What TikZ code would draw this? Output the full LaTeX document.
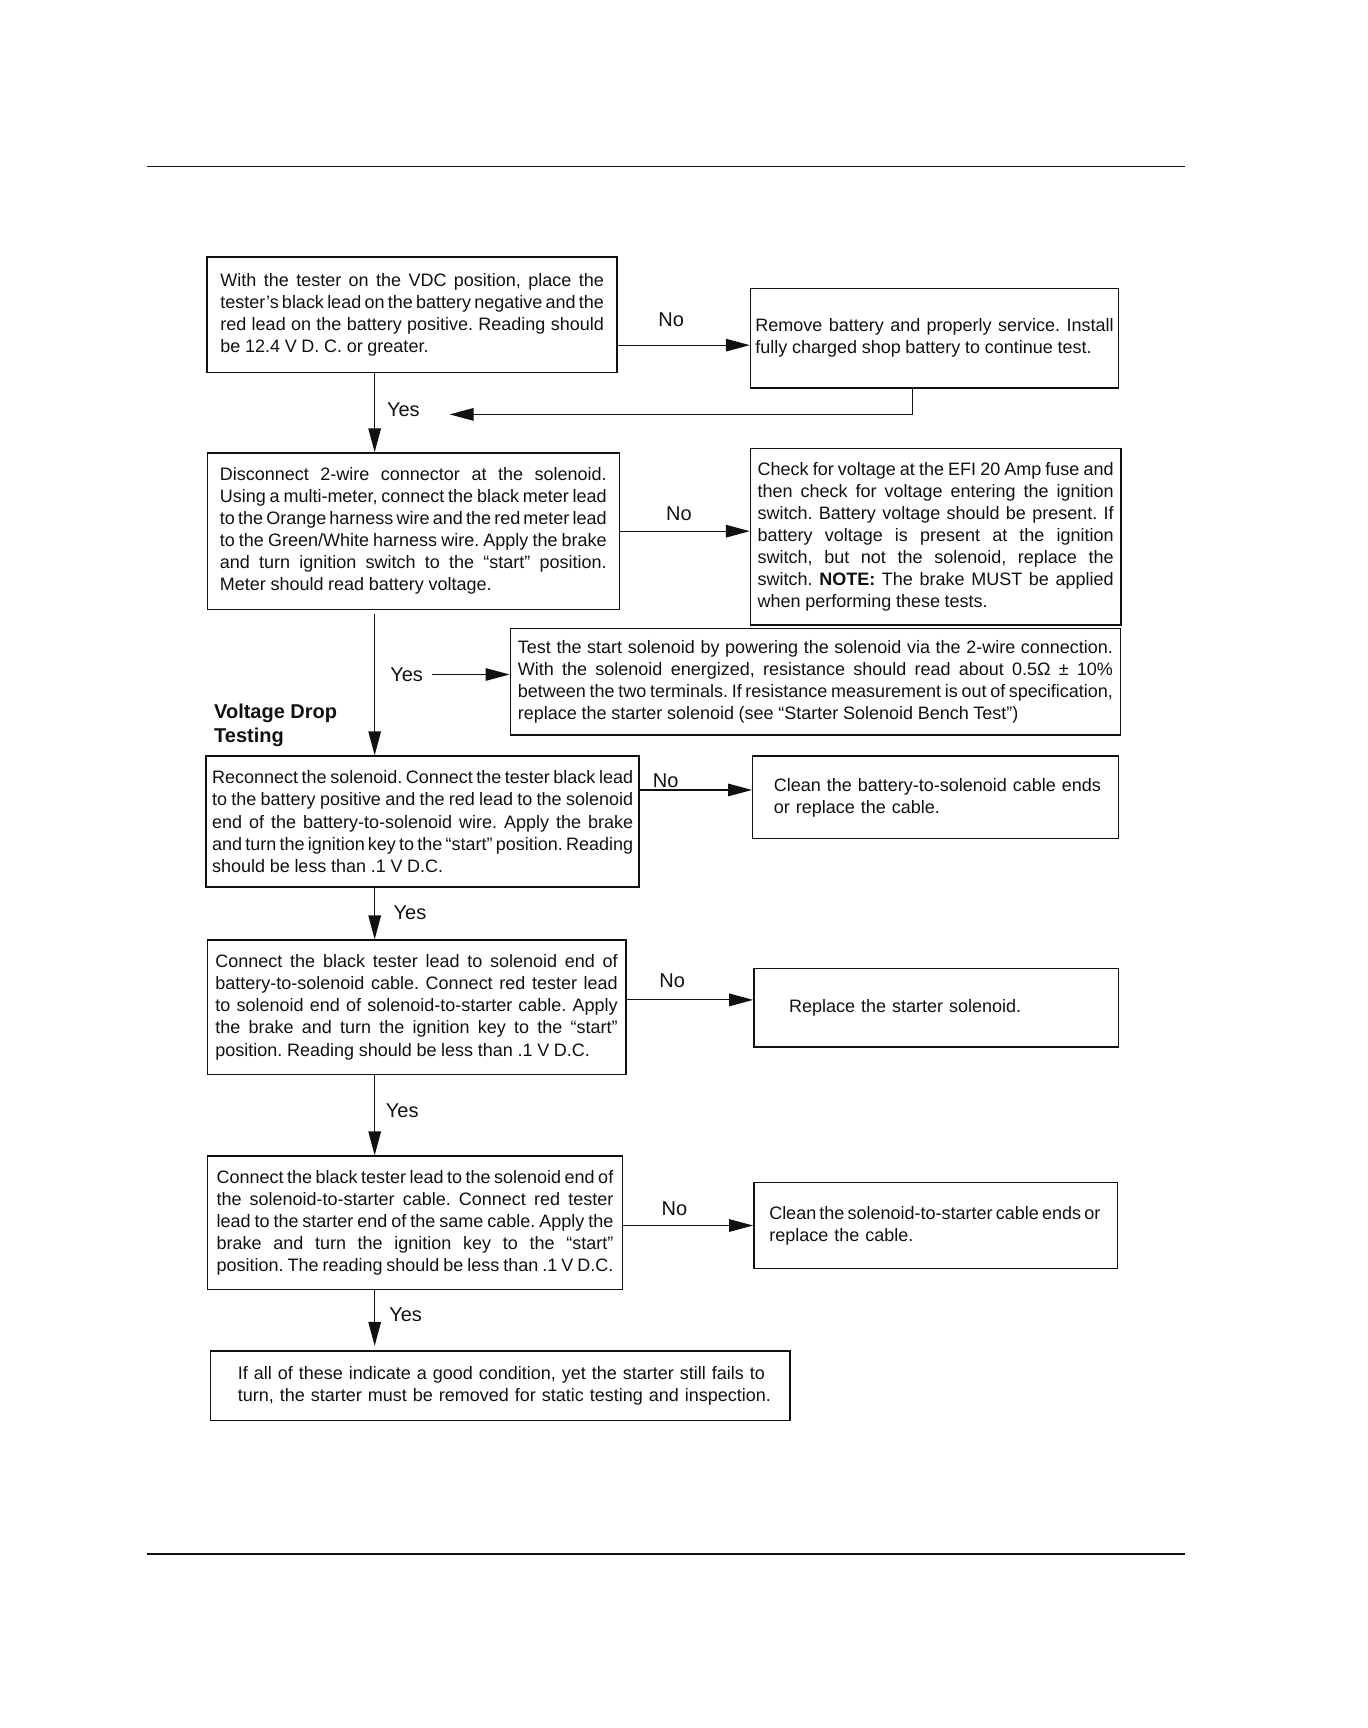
\documentclass[tikz,border=0pt]{standalone}
\usepackage{fontspec}
\setmainfont{Liberation Sans}
\usetikzlibrary{arrows.meta,positioning}
\definecolor{ink}{HTML}{111111}
\tikzset{
  box/.style={draw=ink,line width=.7pt,rectangle,inner sep=0pt,align=justify,text=ink,
    font={\fontsize{9}{11.02}\selectfont\frenchspacing\spaceskip=.26em plus .4em minus .12em}},
  boxl/.style={box,align=left},
  lbl/.style={font={\fontsize{10}{12}\selectfont},text=ink,inner sep=1pt},
  hdr/.style={font={\bfseries\fontsize{10}{12.1}\selectfont},text=ink,align=left,inner sep=0pt},
  ar/.style={-{Triangle[length=4.2mm,width=2.2mm]},draw=ink,line width=.6pt},
  ln/.style={draw=ink,line width=.6pt},
}
\begin{document}
\begin{tikzpicture}[x=1mm,y=1mm]
  \useasboundingbox (0,0) rectangle (240.41,-303.75);
  % page rules
  \draw[ink,line width=.8pt] (25.76,-29.25) -- (208.25,-29.25);
  \draw[ink,line width=.8pt] (25.76,-273.15) -- (208.25,-273.15);
  % main column
  \node[box,minimum width=72.06mm,minimum height=20.34mm,text width=67.41mm] (b1) at (72.45,-55.31)
    {With the tester on the VDC position, place the\linebreak tester's black lead on the battery negative and the\linebreak red lead on the battery positive. Reading should\linebreak be 12.4 V D. C. or greater.};
  \node[box,minimum width=72.45mm,minimum height=27.51mm,text width=68mm] (b2) at (72.65,-93.37)
    {Disconnect 2-wire connector at the solenoid.\linebreak Using a multi-meter, connect the black meter lead\linebreak to the Orange harness wire and the red meter lead\linebreak to the Green/White harness wire. Apply the brake\linebreak and turn ignition switch to the “start” position.\linebreak Meter should read battery voltage.};
  \node[box,minimum width=76.13mm,minimum height=23.05mm,text width=74mm] (b3) at (74.29,-144.42)
    {Reconnect the solenoid. Connect the tester black lead\linebreak to the battery positive and the red lead to the solenoid\linebreak end of the battery-to-solenoid wire. Apply the brake\linebreak and turn the ignition key to the “start” position. Reading\linebreak should be less than .1 V D.C.};
  \node[box,minimum width=73.61mm,minimum height=23.63mm,text width=70.71mm] (b4) at (73.23,-177.06)
    {Connect the black tester lead to solenoid end of\linebreak battery-to-solenoid cable. Connect red tester lead\linebreak to solenoid end of solenoid-to-starter cable. Apply\linebreak the brake and turn the ignition key to the “start”\linebreak position. Reading should be less than .1 V D.C.};
  \node[box,minimum width=73.03mm,minimum height=23.44mm,text width=69.74mm] (b5) at (72.94,-214.93)
    {Connect the black tester lead to the solenoid end of\linebreak the solenoid-to-starter cable. Connect red tester\linebreak lead to the starter end of the same cable. Apply the\linebreak brake and turn the ignition key to the “start”\linebreak \mbox{\spaceskip=.22em position. The reading should be less than .1 V D.C.}};
  \node[boxl,minimum width=101.9mm,minimum height=12.2mm,text width=92.3mm] (b6) at (87.95,-243.6)
    {\mbox{If all of these indicate a good condition, yet the starter still fails to}\\\mbox{turn, the starter must be removed for static testing and inspection.}};
  % right column
  \node[box,minimum width=64.7mm,minimum height=17.43mm,text width=62.96mm] (r1) at (164.27,-59.47)
    {Remove battery and properly service. Install\linebreak fully charged shop battery to continue test.};
  \node[box,minimum width=65.09mm,minimum height=31mm,text width=62.57mm] (r2) at (164.47,-94.34)
    {Check for voltage at the EFI 20 Amp fuse and\linebreak then check for voltage entering the ignition\linebreak switch. Battery voltage should be present. If\linebreak battery voltage is present at the ignition\linebreak switch, but not the solenoid, replace the\linebreak switch. \textbf{NOTE:} The brake MUST be applied\linebreak when performing these tests.};
  \node[box,minimum width=107.32mm,minimum height=18.79mm,text width=104.6mm] (r3) at (143.35,-119.82)
    {Test the start solenoid by powering the solenoid via the 2-wire connection.\linebreak With the solenoid energized, resistance should read about 0.5Ω ± 10\%\linebreak between the two terminals. If resistance measurement is out of specification,\linebreak replace the starter solenoid (see “Starter Solenoid Bench Test”)};
  \node[boxl,minimum width=64.31mm,minimum height=14.53mm,text width=56.9mm] (r4) at (164.47,-140.16)
    {\mbox{Clean the battery-to-solenoid cable ends}\\\mbox{or replace the cable.}};
  \node[boxl,minimum width=64.12mm,minimum height=13.75mm,text width=51.7mm] (r5) at (164.57,-177.16)
    {Replace the starter solenoid.};
  \node[boxl,minimum width=63.93mm,minimum height=15.11mm,text width=58.5mm] (r6) at (164.47,-215.42)
    {\mbox{\spaceskip=.18em Clean the solenoid-to-starter cable ends or}\\\mbox{replace the cable.}};
  % heading
  \node[hdr,anchor=west] (vdt) at (37.58,-127.5) {Voltage Drop\\Testing};
  % labels
  \node[lbl] (no1) at (117.98,-56.18) {No};
  \node[lbl] (no2) at (119.33,-90.27) {No};
  \node[lbl] (no3) at (117.01,-137.15) {No};
  \node[lbl] (no4) at (118.17,-172.41) {No};
  \node[lbl] (no5) at (118.56,-212.51) {No};
  \node[lbl] (yes1) at (70.9,-72.06) {Yes};
  \node[lbl] (yes2) at (71.48,-118.56) {Yes};
  \node[lbl] (yes3) at (72.06,-160.4) {Yes};
  \node[lbl] (yes4) at (70.71,-195.27) {Yes};
  \node[lbl] (yes5) at (71.29,-231.11) {Yes};
  \coordinate (trunk) at (65.86,0);
  \coordinate (fb) at (160.4,-72.84);
  \coordinate (fbend) at (79.04,-72.84);
  % connectors
  \draw[ar] ([yshift=-1.2mm]b1.east |- r1.west) -- ([yshift=-1.2mm]r1.west);
  \draw[ln] (r1.south -| fb) -- (fb);
  \draw[ar] (fb) -- (fbend);
  \draw[ar] (b1.south -| trunk) -- (b2.north -| trunk);
  \draw[ar] (b2.east) -- (b2.east -| r2.west);
  \draw[ar] ([yshift=-.6mm]b2.south -| trunk) -- (b3.north -| trunk);
  \draw[ar] ([xshift=1.2mm]yes2.east) -- (yes2.east -| r3.west);
  \draw[ar] ([yshift=1.3mm]b3.east |- r4.west) -- ([yshift=1.3mm]r4.west);
  \draw[ar] (b3.south -| trunk) -- (b4.north -| trunk);
  \draw[ar] ([yshift=1.4mm]b4.east |- r5.west) -- ([yshift=1.4mm]r5.west);
  \draw[ar] (b4.south -| trunk) -- (b5.north -| trunk);
  \draw[ar] (b5.east |- r6.west) -- (r6.west);
  \draw[ar] (b5.south -| trunk) -- ([yshift=.8mm]b6.north -| trunk);
\end{tikzpicture}
\end{document}
